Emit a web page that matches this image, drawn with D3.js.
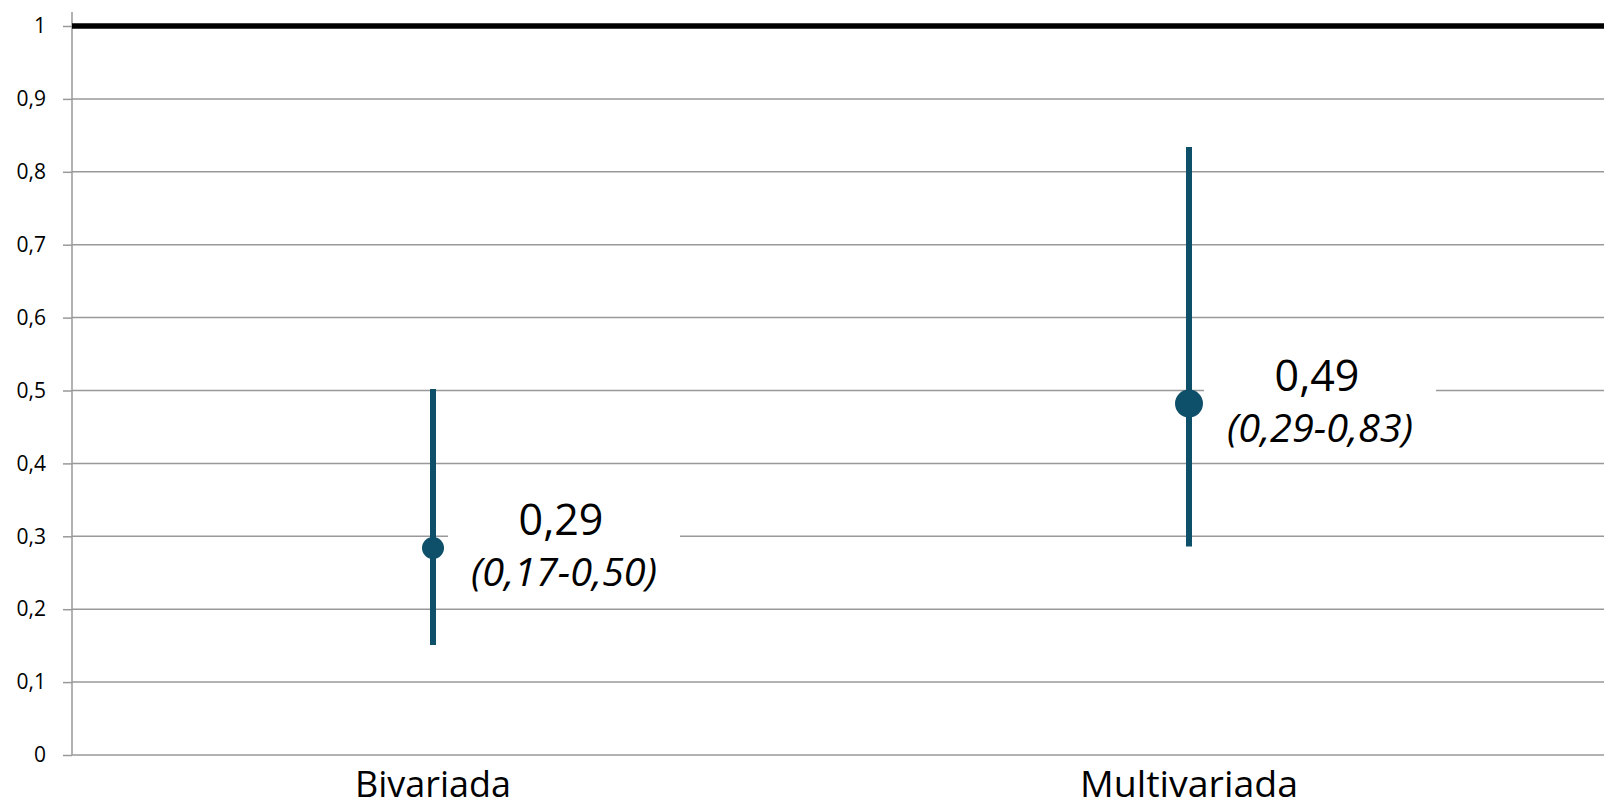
<!DOCTYPE html>
<html>
<head>
<meta charset="utf-8">
<script src="https://cdn.jsdelivr.net/npm/d3@7"></script>
<style>
  body { margin: 0; background: #fff; }
  .g-chart text { font-family: "Open Sans", sans-serif; fill: #000; }
  .y.axis .tick line { stroke: #999; stroke-width: 1.5; }
  .y.axis .tick text { font-size: 21px; }
  .g-grid line { stroke: #999; stroke-width: 1.5; }
</style>
</head>
<body>
<div class="g-chart"></div>
<script>
//Local data
var categories = ["Bivariada", "Multivariada"];
var pointValues = [0.284, 0.482];
var lowValues = [0.151, 0.286];
var highValues = [0.502, 0.834];
var estLabels = ["0,29", "0,49"];
var ciLabels = ["(0,17-0,50)", "(0,29-0,83)"];
var yTicks = [0, 0.1, 0.2, 0.3, 0.4, 0.5, 0.6, 0.7, 0.8, 0.9, 1];
var refLine = 1;

//Margin conventions
var margin = {top: 26, right: 0, bottom: 52, left: 72};
var width = 1604 - margin.left - margin.right,
    height = 807 - margin.top - margin.bottom;

var svg = d3.select(".g-chart").append("svg")
  .attr("width", 1604)
  .attr("height", 807)
  .append("g")
  .attr("transform", "translate(" + margin.left + "," + margin.top + ")");

//Scales
var yScale = d3.scaleLinear()
  .domain([0, 1])
  .range([height, 0]);

var xScale = d3.scalePoint()
  .domain(categories)
  .range([361, 1117]);

//Comma decimal format
var locale = d3.formatLocale({decimal: ",", thousands: ".", grouping: [3], currency: ["", ""]});
var fmt = locale.format("~g");

//Gridlines
svg.append("g")
  .attr("class", "g-grid")
  .selectAll("line")
  .data(yTicks.filter(function(d) { return d !== refLine; }))
  .enter()
  .append("line")
  .attr("x1", 0)
  .attr("x2", width)
  .attr("y1", function(d) { return yScale(d); })
  .attr("y2", function(d) { return yScale(d); });

//Y axis
var yAxis = d3.axisLeft(yScale)
  .tickValues(yTicks)
  .tickFormat(fmt)
  .tickSize(9)
  .tickSizeOuter(0)
  .tickPadding(17);

svg.append("g")
  .attr("class", "y axis")
  .call(yAxis);

//Extend axis line slightly above the top
svg.select(".y.axis .domain").remove();
svg.append("line")
  .attr("x1", 0).attr("x2", 0)
  .attr("y1", yScale(1) - 14)
  .attr("y2", yScale(0))
  .attr("stroke", "#999")
  .attr("stroke-width", 1.5);

//Reference line at 1
svg.append("line")
  .attr("x1", 0)
  .attr("x2", width)
  .attr("y1", yScale(refLine))
  .attr("y2", yScale(refLine))
  .attr("stroke", "#000")
  .attr("stroke-width", 5.5);

var idx = d3.range(categories.length);

var groups = svg.selectAll(".g-point")
  .data(idx)
  .enter()
  .append("g")
  .attr("class", "g-point");

//Label boxes (white, hide gridlines)
groups.append("rect")
  .attr("x", function(i) { return xScale(categories[i]) + 131 - 116; })
  .attr("y", function(i) { return yScale(pointValues[i]) - 66; })
  .attr("width", 232)
  .attr("height", 124)
  .attr("fill", "#fff");

//Confidence interval lines
groups.append("line")
  .attr("x1", function(i) { return xScale(categories[i]); })
  .attr("x2", function(i) { return xScale(categories[i]); })
  .attr("y1", function(i) { return yScale(lowValues[i]); })
  .attr("y2", function(i) { return yScale(highValues[i]); })
  .attr("stroke", "#0e506a")
  .attr("stroke-width", 6);

//Points
groups.append("circle")
  .attr("cx", function(i) { return xScale(categories[i]); })
  .attr("cy", function(i) { return yScale(pointValues[i]); })
  .attr("r", function(i) { return i === 0 ? 11 : 14; })
  .attr("fill", "#0e506a");

//Estimate labels
groups.append("text")
  .attr("x", function(i) { return xScale(categories[i]) + 128; })
  .attr("y", function(i) { return yScale(pointValues[i]) - 13; })
  .attr("text-anchor", "middle")
  .style("font-size", "43px")
  .text(function(i) { return estLabels[i]; });

groups.append("text")
  .attr("x", function(i) { return xScale(categories[i]) + 131; })
  .attr("y", function(i) { return yScale(pointValues[i]) + 38; })
  .attr("text-anchor", "middle")
  .style("font-size", "38px")
  .style("font-style", "italic")
  .attr("textLength", 186)
  .attr("lengthAdjust", "spacingAndGlyphs")
  .text(function(i) { return ciLabels[i]; });

//Category labels (narrow, like the original)
svg.selectAll(".g-cat")
  .data(categories)
  .enter()
  .append("text")
  .attr("class", "g-cat")
  .attr("x", function(d) { return xScale(d); })
  .attr("y", height + 42)
  .attr("text-anchor", "middle")
  .style("font-size", "37px")
  .attr("textLength", function(d, i) { return i === 0 ? 156 : 218; })
  .attr("lengthAdjust", "spacingAndGlyphs")
  .text(function(d) { return d; });
</script>
</body>
</html>
